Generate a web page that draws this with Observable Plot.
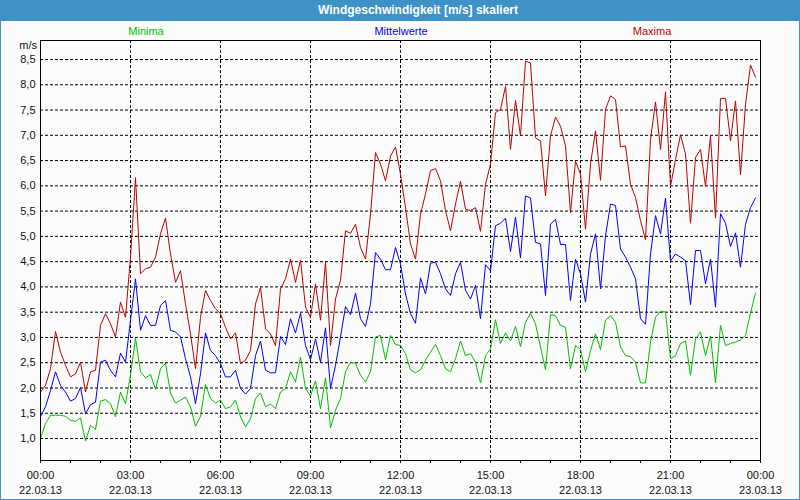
<!DOCTYPE html>
<html>
<head>
<meta charset="utf-8">
<script src="https://cdn.jsdelivr.net/npm/d3@7"></script>
<script src="https://cdn.jsdelivr.net/npm/@observablehq/plot@0.6"></script>
<style>
  html, body { margin: 0; padding: 0; background: #fcfcfc; }
  #wrap { position: relative; width: 800px; height: 500px; overflow: hidden; background: #fcfcfc; font-family: "Liberation Sans", Arial, sans-serif; }
  #titlebar { position: absolute; left: 0; top: 0; width: 800px; height: 21px; background: #3e92c8; z-index: 2; }
  #title { position: absolute; left: 418px; top: 3px; transform: translateX(-50%); color: #fff; font-weight: bold; font-size: 12px; white-space: nowrap; }
  #border { position: absolute; left: 0; top: 0; width: 798px; height: 498px; border: 1px solid #3e92c8; z-index: 3; pointer-events: none; }
  .leg { position: absolute; top: 25px; transform: translateX(-50%); font-size: 11px; white-space: nowrap; z-index: 2; }
  #ylab { position: absolute; right: 763px; top: 39px; font-size: 11px; color: #111; z-index: 2; }
  #chart { position: absolute; left: 0; top: 0; }
</style>
</head>
<body>
<div id="wrap">
  <div id="chart"></div>
  <div id="titlebar"><div id="title">Windgeschwindigkeit [m/s] skaliert</div></div>
  <div class="leg" style="left:146px;color:#00c000">Minima</div>
  <div class="leg" style="left:401px;color:#0000ff">Mittelwerte</div>
  <div class="leg" style="left:652px;color:#c00000">Maxima</div>
  <div id="ylab">m/s</div>
  <div id="border"></div>
</div>
<script>
// 10-minute values, 22.03.13 00:00 .. 23:50
const maxima = [
  1.92,2.05,2.38,3.12,2.71,2.45,2.22,2.28,2.51,1.92,2.32,2.35,3.24,3.47,3.27,3.01,3.70,3.40,4.59,6.16,
  4.26,4.36,4.39,4.59,5.05,5.36,4.65,4.09,4.32,3.66,3.07,2.38,3.40,3.93,3.73,3.57,3.47,3.20,2.97,3.09,
  2.48,2.55,2.74,3.66,3.99,3.17,3.07,2.84,3.96,4.16,4.55,4.09,4.53,3.60,3.40,4.06,3.34,4.49,2.84,3.76,
  4.13,5.11,5.06,5.24,4.78,4.55,5.44,6.66,6.43,6.10,6.59,6.77,6.23,5.57,4.85,4.55,5.44,5.84,6.30,6.34,
  6.10,5.51,5.11,5.64,6.09,5.54,5.51,5.57,5.10,6.03,6.43,7.45,7.51,7.97,6.72,7.69,6.99,8.47,8.43,6.95,
  6.89,5.80,6.99,7.36,7.18,6.79,5.47,6.49,6.23,5.14,6.43,7.09,6.11,7.51,7.78,7.71,6.77,6.79,6.03,5.77,
  5.31,4.93,6.92,7.66,6.72,7.86,5.99,6.52,7.01,6.63,5.26,6.56,6.72,5.99,6.99,5.36,7.73,7.73,6.89,7.68,
  6.22,7.61,8.39,8.15
];
const mittelwerte = [
  1.43,1.63,1.95,2.32,2.05,1.92,1.74,1.79,2.01,1.49,1.67,1.72,2.51,2.55,2.35,2.22,2.69,2.51,3.34,4.16,
  3.14,3.43,3.24,3.24,3.63,3.73,3.14,3.11,3.01,2.58,2.22,1.69,2.28,3.09,2.74,2.64,2.48,2.22,2.22,2.35,
  1.99,1.88,1.99,2.64,2.93,2.35,2.30,2.30,3.02,2.86,3.37,3.09,3.48,2.84,2.56,2.97,2.51,3.19,1.99,2.45,
  3.01,3.61,3.45,3.88,3.37,3.22,3.66,4.68,4.55,4.34,4.34,4.78,4.45,3.86,3.47,3.28,4.18,3.86,4.47,4.49,
  4.26,3.96,3.83,4.26,4.49,3.93,3.76,4.03,3.37,4.44,4.32,5.21,5.26,5.36,4.70,5.38,4.57,5.80,5.76,4.88,
  4.85,3.83,5.24,5.34,4.84,4.84,3.73,4.55,4.26,3.70,4.65,5.05,3.96,5.01,5.64,5.61,4.75,4.59,4.39,4.16,
  3.37,3.26,4.65,5.41,5.05,5.76,4.51,4.65,4.59,4.52,3.65,4.72,4.72,4.06,4.55,3.60,5.45,5.26,4.80,5.07,
  4.39,5.24,5.57,5.76
];
const minima = [
  1.00,1.30,1.46,1.46,1.46,1.44,1.36,1.34,1.41,0.95,1.26,1.18,1.74,1.77,1.69,1.43,1.92,1.69,2.25,2.99,
  2.32,2.20,2.27,1.97,2.38,2.49,1.90,1.70,1.76,1.82,1.63,1.24,1.44,2.07,1.79,1.70,1.76,1.59,1.63,1.76,
  1.43,1.23,1.39,1.79,1.90,1.63,1.68,1.59,1.92,1.99,2.32,2.12,2.61,1.99,1.84,2.14,1.59,2.20,1.21,1.56,
  1.79,2.32,2.51,2.49,2.25,2.12,2.32,3.01,3.04,2.56,3.04,2.86,2.84,2.68,2.36,2.30,2.36,2.55,2.71,2.86,
  2.64,2.38,2.32,2.58,2.93,2.64,2.68,2.51,2.10,2.64,2.78,3.35,2.88,3.09,2.93,3.22,2.82,3.30,3.48,3.27,
  2.81,2.36,3.45,3.43,3.24,3.20,2.38,2.84,2.76,2.32,2.74,3.07,2.76,3.34,3.43,3.30,2.81,2.64,2.62,2.51,
  2.10,2.10,2.91,3.40,3.52,3.50,2.58,2.64,2.88,2.93,2.25,2.97,3.11,2.64,3.03,2.10,3.24,2.84,2.88,2.91,
  2.95,3.04,3.48,3.88
];
const yTicks = [1.0,1.5,2.0,2.5,3.0,3.5,4.0,4.5,5.0,5.5,6.0,6.5,7.0,7.5,8.0,8.5];
const startTime = new Date(Date.UTC(2013, 2, 22, 0, 0));
const endTime = new Date(Date.UTC(2013, 2, 23, 0, 0));
const stepMinutes = 10;

const rows = [];
const series = [["Minima", minima, "#00c000"], ["Mittelwerte", mittelwerte, "#0000ff"], ["Maxima", maxima, "#c00000"]];
for (const [name, vals] of series) {
  vals.forEach((v, i) => rows.push({name, t: new Date(startTime.getTime() + i * stepMinutes * 60000), v}));
}
const hourTicks = d3.utcHour.range(startTime, new Date(endTime.getTime() + 1));
const majorTicks = hourTicks.filter(d => d.getUTCHours() % 3 === 0);
const innerMajor = majorTicks.filter(d => +d !== +startTime && +d !== +endTime);
const fmtTime = d3.utcFormat("%H:%M");
const fmtDate = d3.utcFormat("%d.%m.%y");

const chart = Plot.plot({
  width: 800,
  height: 500,
  marginTop: 40,
  marginBottom: 40,
  marginLeft: 40,
  marginRight: 40,
  style: {fontFamily: "Liberation Sans, Arial, sans-serif", fontSize: "11px", color: "#111", background: "transparent"},
  x: {type: "utc", domain: [startTime, endTime]},
  y: {domain: [0.565, 8.876]},
  marks: [
    Plot.ruleY(yTicks, {stroke: "#000", strokeDasharray: "3,2", strokeWidth: 1}),
    Plot.ruleX(innerMajor, {stroke: "#000", strokeDasharray: "3,2", strokeWidth: 1}),
    Plot.line(rows, {x: "t", y: "v", z: "name", stroke: "name", strokeWidth: 1}),
    Plot.frame({stroke: "#000", strokeWidth: 1}),
    Plot.axisY({ticks: yTicks, tickSize: 0, tickPadding: 5, label: null, tickFormat: d => d.toFixed(1).replace(".", ",")}),
    Plot.axisX({ticks: hourTicks, tickSize: 3, tickPadding: 8, label: null, tickFormat: d => d.getUTCHours() % 3 === 0 ? fmtTime(d) : ""}),
    Plot.axisX({ticks: majorTicks, tickSize: 0, tickPadding: 26, label: null, tickFormat: d => fmtDate(d)})
  ],
  color: {domain: series.map(s => s[0]), range: series.map(s => s[2])}
});
document.getElementById("chart").appendChild(chart);
</script>
</body>
</html>
